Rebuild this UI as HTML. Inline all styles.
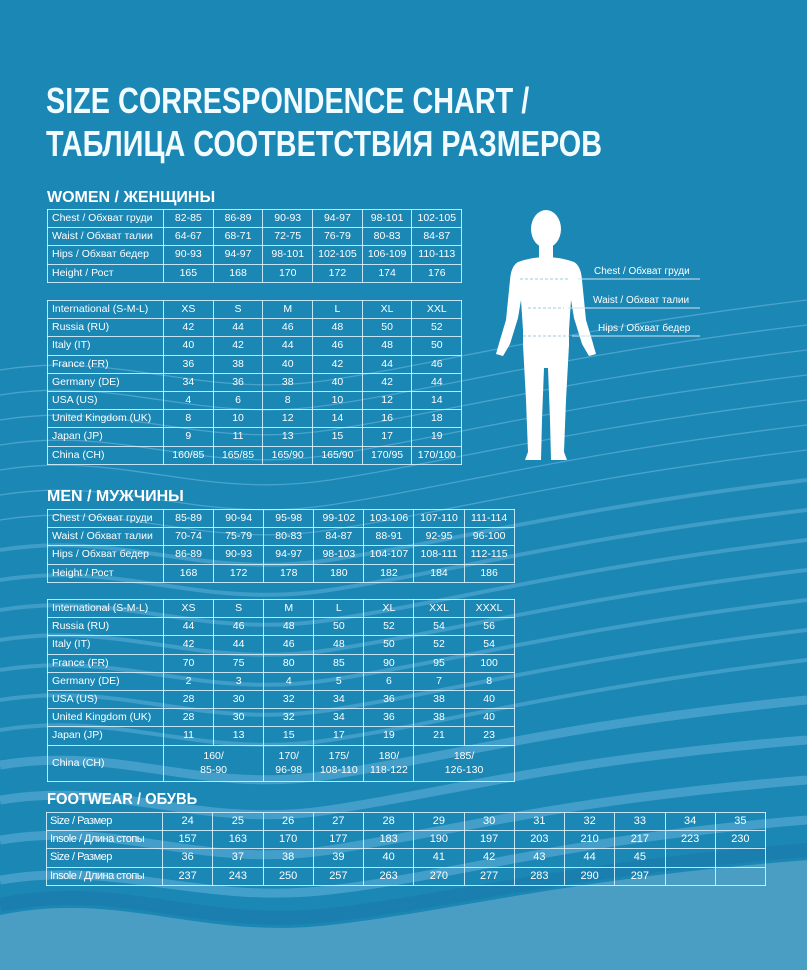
<!DOCTYPE html>
<html><head><meta charset="utf-8">
<style>
*{margin:0;padding:0;box-sizing:border-box}
body{width:807px;height:970px;overflow:hidden;background:#1a87b5;position:relative;font-family:"Liberation Sans","DejaVu Sans",sans-serif;color:#fff}
.bg{position:absolute;left:0;top:0}
h1{position:absolute;left:46px;font-family:"Liberation Sans",sans-serif;font-weight:bold;font-size:36px;color:#f2fbff;white-space:nowrap;transform:scaleX(0.8);transform-origin:0 0}
h2{position:absolute;left:47px;font-family:"Liberation Sans",sans-serif;font-weight:bold;font-size:16px;white-space:nowrap;transform-origin:0 0}
table{position:absolute;border-collapse:collapse;table-layout:fixed}
td{border:1px solid rgba(225,245,255,0.85);font-size:10.5px;text-align:center;height:18.2px;padding:0;white-space:nowrap;overflow:hidden;line-height:11px}
td.l{text-align:left;padding-left:4px}
table.f td{font-size:11px}
table.f td.l{padding-left:3px;font-size:11px;letter-spacing:-0.5px}
.lbl{position:absolute;font-size:10px;white-space:nowrap}
</style></head><body>
<svg class="bg" width="807" height="970" viewBox="0 0 807 970">
<rect x="0" y="0" width="807" height="970" fill="#1a87b5"/>
<g fill="none" stroke="#5fb0d6" stroke-width="1.3" opacity="0.7">
<path d="M0 370 C120 350 200 400 330 380 S560 330 807 300"/>
<path d="M0 395 C120 375 200 425 330 405 S560 355 807 325"/>
<path d="M0 420 C120 400 200 450 330 430 S560 380 807 350"/>
<path d="M0 445 C120 425 200 475 330 455 S560 405 807 375"/>
<path d="M0 470 C120 450 200 500 330 480 S560 430 807 400"/>
<path d="M0 495 C120 475 200 525 330 505 S560 455 807 425"/>
<path d="M0 520 C120 500 200 550 330 530 S560 480 807 450"/>
</g>
<g fill="none" stroke="#58acd4" stroke-width="4" opacity="0.6">
<path d="M0 550 C120 530 200 580 330 560 S560 510 807 480"/>
<path d="M0 580 C120 560 200 610 330 590 S560 540 807 510"/>
<path d="M0 610 C120 590 200 640 330 620 S560 570 807 540"/>
<path d="M0 640 C120 620 200 670 330 650 S560 600 807 570"/>
<path d="M0 670 C120 650 200 700 330 680 S560 630 807 600"/>
<path d="M0 700 C120 680 200 730 330 710 S560 660 807 630"/>
<path d="M0 730 C120 710 200 760 330 740 S560 690 807 660"/>
</g>
<g fill="none" stroke="#4ea6cf" stroke-width="9" opacity="0.8">
<path d="M0 765 C120 745 200 795 330 775 S560 725 807 700"/>
<path d="M0 800 C120 780 200 830 330 810 S560 760 807 740"/>
<path d="M0 840 C120 820 200 870 330 850 S560 800 807 780"/>
<path d="M0 880 C120 860 200 905 330 890 S560 840 807 820"/>
</g>
<path d="M0 915 C120 890 200 940 330 925 S560 880 807 860 L807 970 L0 970Z" fill="#4a9dc3"/>
<path d="M0 905 C120 880 200 930 330 915 S560 870 807 850" fill="none" stroke="#1a7fae" stroke-width="14"/>
<g fill="#ffffff">
<ellipse cx="546" cy="229" rx="15" ry="19"/>
<rect x="539" y="244" width="14" height="14"/>
<path d="M518 262 Q546 252 574 262 Q581 266 582 280 L586 320 L592 340 L596 354 L589 356 L582 344 L574 318 L571 300 L569 330 L569 345 L566 400 L564 452 L567 460 L551 460 L550 420 L548 368 L544 368 L542 420 L541 460 L525 460 L528 452 L526 400 L523 345 L523 330 L521 300 L518 318 L510 344 L503 356 L496 354 L500 340 L506 320 L510 280 Q511 266 518 262Z"/>
</g>
<g stroke="#9dc9de" stroke-width="1" stroke-dasharray="3,2" fill="none">
<line x1="520" y1="279" x2="568" y2="279"/>
<line x1="528" y1="308" x2="564" y2="308"/>
<line x1="523" y1="336" x2="569" y2="336"/>
</g>
<g stroke="#cfe6f2" stroke-width="1">
<line x1="578" y1="279" x2="700" y2="279"/>
<line x1="568" y1="308" x2="700" y2="308"/>
<line x1="572" y1="336" x2="700" y2="336"/>
</g>
</svg>
<div class="lbl" style="left:594px;top:266px">Chest / Обхват груди</div>
<div class="lbl" style="left:593px;top:295px">Waist / Обхват талии</div>
<div class="lbl" style="left:598px;top:323px">Hips / Обхват бедер</div>

<h1 style="top:80px">SIZE CORRESPONDENCE CHART /</h1>
<h1 style="top:123px">ТАБЛИЦА СООТВЕТСТВИЯ РАЗМЕРОВ</h1>

<h2 style="top:189px">WOMEN / ЖЕНЩИНЫ</h2>
<table style="left:47px;top:209px;width:414px"><colgroup><col style="width:116px"><col span="6" style="width:49.7px"></colgroup>
<tr><td class="l">Chest / Обхват груди</td><td>82-85</td><td>86-89</td><td>90-93</td><td>94-97</td><td>98-101</td><td>102-105</td></tr>
<tr><td class="l">Waist / Обхват талии</td><td>64-67</td><td>68-71</td><td>72-75</td><td>76-79</td><td>80-83</td><td>84-87</td></tr>
<tr><td class="l">Hips / Обхват бедер</td><td>90-93</td><td>94-97</td><td>98-101</td><td>102-105</td><td>106-109</td><td>110-113</td></tr>
<tr><td class="l">Height / Рост</td><td>165</td><td>168</td><td>170</td><td>172</td><td>174</td><td>176</td></tr>
</table>
<table style="left:47px;top:300px;width:414px"><colgroup><col style="width:116px"><col span="6" style="width:49.7px"></colgroup>
<tr><td class="l">International (S-M-L)</td><td>XS</td><td>S</td><td>M</td><td>L</td><td>XL</td><td>XXL</td></tr>
<tr><td class="l">Russia (RU)</td><td>42</td><td>44</td><td>46</td><td>48</td><td>50</td><td>52</td></tr>
<tr><td class="l">Italy (IT)</td><td>40</td><td>42</td><td>44</td><td>46</td><td>48</td><td>50</td></tr>
<tr><td class="l">France (FR)</td><td>36</td><td>38</td><td>40</td><td>42</td><td>44</td><td>46</td></tr>
<tr><td class="l">Germany (DE)</td><td>34</td><td>36</td><td>38</td><td>40</td><td>42</td><td>44</td></tr>
<tr><td class="l">USA (US)</td><td>4</td><td>6</td><td>8</td><td>10</td><td>12</td><td>14</td></tr>
<tr><td class="l">United Kingdom (UK)</td><td>8</td><td>10</td><td>12</td><td>14</td><td>16</td><td>18</td></tr>
<tr><td class="l">Japan (JP)</td><td>9</td><td>11</td><td>13</td><td>15</td><td>17</td><td>19</td></tr>
<tr><td class="l">China (CH)</td><td>160/85</td><td>165/85</td><td>165/90</td><td>165/90</td><td>170/95</td><td>170/100</td></tr>
</table>

<h2 style="top:488px">MEN / МУЖЧИНЫ</h2>
<table style="left:47px;top:509px;width:467px"><colgroup><col style="width:116px"><col span="7" style="width:50.1px"></colgroup>
<tr><td class="l">Chest / Обхват груди</td><td>85-89</td><td>90-94</td><td>95-98</td><td>99-102</td><td>103-106</td><td>107-110</td><td>111-114</td></tr>
<tr><td class="l">Waist / Обхват талии</td><td>70-74</td><td>75-79</td><td>80-83</td><td>84-87</td><td>88-91</td><td>92-95</td><td>96-100</td></tr>
<tr><td class="l">Hips / Обхват бедер</td><td>86-89</td><td>90-93</td><td>94-97</td><td>98-103</td><td>104-107</td><td>108-111</td><td>112-115</td></tr>
<tr><td class="l">Height / Рост</td><td>168</td><td>172</td><td>178</td><td>180</td><td>182</td><td>184</td><td>186</td></tr>
</table>
<table style="left:47px;top:599px;width:467px"><colgroup><col style="width:116px"><col span="7" style="width:50.1px"></colgroup>
<tr><td class="l">International (S-M-L)</td><td>XS</td><td>S</td><td>M</td><td>L</td><td>XL</td><td>XXL</td><td>XXXL</td></tr>
<tr><td class="l">Russia (RU)</td><td>44</td><td>46</td><td>48</td><td>50</td><td>52</td><td>54</td><td>56</td></tr>
<tr><td class="l">Italy (IT)</td><td>42</td><td>44</td><td>46</td><td>48</td><td>50</td><td>52</td><td>54</td></tr>
<tr><td class="l">France (FR)</td><td>70</td><td>75</td><td>80</td><td>85</td><td>90</td><td>95</td><td>100</td></tr>
<tr><td class="l">Germany (DE)</td><td>2</td><td>3</td><td>4</td><td>5</td><td>6</td><td>7</td><td>8</td></tr>
<tr><td class="l">USA (US)</td><td>28</td><td>30</td><td>32</td><td>34</td><td>36</td><td>38</td><td>40</td></tr>
<tr><td class="l">United Kingdom (UK)</td><td>28</td><td>30</td><td>32</td><td>34</td><td>36</td><td>38</td><td>40</td></tr>
<tr><td class="l">Japan (JP)</td><td>11</td><td>13</td><td>15</td><td>17</td><td>19</td><td>21</td><td>23</td></tr>
<tr><td class="l" style="height:36px">China (CH)</td><td colspan="2" style="line-height:14px">160/<br>85-90</td><td style="line-height:14px">170/<br>96-98</td><td style="line-height:14px">175/<br>108-110</td><td style="line-height:14px">180/<br>118-122</td><td colspan="2" style="line-height:14px">185/<br>126-130</td></tr>
</table>

<h2 style="top:791px;transform:scaleX(0.92)">FOOTWEAR / ОБУВЬ</h2>
<table class="f" style="left:46px;top:812px;width:719px"><colgroup><col style="width:116px"><col span="12" style="width:50.25px"></colgroup>
<tr><td class="l">Size / Размер</td><td>24</td><td>25</td><td>26</td><td>27</td><td>28</td><td>29</td><td>30</td><td>31</td><td>32</td><td>33</td><td>34</td><td>35</td></tr>
<tr><td class="l">Insole / Длина стопы</td><td>157</td><td>163</td><td>170</td><td>177</td><td>183</td><td>190</td><td>197</td><td>203</td><td>210</td><td>217</td><td>223</td><td>230</td></tr>
<tr><td class="l">Size / Размер</td><td>36</td><td>37</td><td>38</td><td>39</td><td>40</td><td>41</td><td>42</td><td>43</td><td>44</td><td>45</td><td></td><td></td></tr>
<tr><td class="l">Insole / Длина стопы</td><td>237</td><td>243</td><td>250</td><td>257</td><td>263</td><td>270</td><td>277</td><td>283</td><td>290</td><td>297</td><td></td><td></td></tr>
</table>
</body></html>
